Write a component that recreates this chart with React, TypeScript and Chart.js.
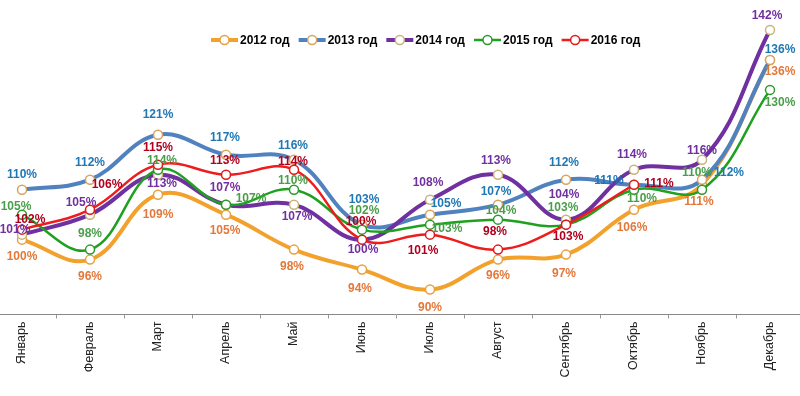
import React, { useEffect, useRef } from 'react';
import { Chart, registerables } from 'chart.js';

Chart.register(...registerables);

const MONTHS = ['Январь', 'Февраль', 'Март', 'Апрель', 'Май', 'Июнь', 'Июль', 'Август', 'Сентябрь', 'Октябрь', 'Ноябрь', 'Декабрь'];
const YEAR_LABELS = ['2012 год', '2013 год', '2014 год', '2015 год', '2016 год'];

const Y2012 = [100, 96, 109, 105, 98, 94, 90, 96, 97, 106, 111, 136];
const Y2013 = [110, 112, 121, 117, 116, 103, 105, 107, 112, 111, 112, 136];
const Y2014 = [101, 105, 113, 107, 107, 100, 108, 113, 104, 114, 116, 142];
const Y2015 = [105, 98, 114, 107, 110, 102, 103, 104, 103, 110, 110, 130];
const Y2016 = [102, 106, 115, 113, 114, 100, 101, 98, 103, 111, null, null];

const Y_MIN = 85;
const Y_MAX = 145;

// label placement (dx, dy in px from the point), layout only
const OFF2012 = [[0, 17], [0, 17], [0, 20], [-1, 16], [-2, 17], [-2, 19], [0, 18], [0, 16], [-2, 19], [-2, 18], [-3, 17], [10, 12]];
const OFF2013 = [[0, -15], [0, -17], [0, -20], [-1, -17], [-1, -14], [2, -25], [16, -11], [-2, -13], [-2, -17], [-25, -4], [27, -7], [10, -10]];
const OFF2014 = [[-7, -5], [-9, -12], [4, 9], [-1, -17], [3, 12], [1, 10], [-2, -17], [-2, -14], [-2, -25], [-2, -15], [0, -9], [-3, -14]];
const OFF2015 = [[-6, -8], [0, -16], [4, -9], [25, -6], [-1, -9], [2, -19], [17, 4], [3, -9], [-3, -17], [8, 9], [-5, -17], [10, 13]];
const OFF2016 = [[8, -10], [17, -25], [0, -17], [-1, -14], [-1, -8], [-1, -18], [-7, 16], [-3, -18], [2, 12], [25, -1], null, null];

const SERIES = [
  { label: YEAR_LABELS[0], values: Y2012, offsets: OFF2012, line: '#F2A22C', marker: '#E8A040', text: '#E3783A', width: 4 },
  { label: YEAR_LABELS[1], values: Y2013, offsets: OFF2013, line: '#5082C0', marker: '#D8A35C', text: '#1F77B4', width: 4 },
  { label: YEAR_LABELS[2], values: Y2014, offsets: OFF2014, line: '#7030A0', marker: '#C8B47A', text: '#7030A0', width: 4 },
  { label: YEAR_LABELS[3], values: Y2015, offsets: OFF2015, line: '#20A020', marker: '#2A9A2A', text: '#4A9E4A', width: 2.5 },
  { label: YEAR_LABELS[4], values: Y2016, offsets: OFF2016, line: '#EE1C1C', marker: '#E01818', text: '#B0001E', width: 2.5 },
];

const CANVAS_SHIFT = 12;
const FONT = '"Liberation Sans", Arial, sans-serif';

const labelPlugin = {
  id: 'pointValueLabels',
  afterDatasetsDraw(chart: any) {
    const ctx = chart.ctx;
    ctx.save();
    ctx.font = 'bold 12px ' + FONT;
    ctx.textAlign = 'center';
    ctx.textBaseline = 'middle';
    SERIES.forEach((s, di) => {
      const meta = chart.getDatasetMeta(di);
      meta.data.forEach((pt: any, i: number) => {
        const v = s.values[i];
        const off = s.offsets[i];
        if (v == null || !off) return;
        ctx.fillStyle = s.text;
        ctx.fillText(v + '%', pt.x + off[0], pt.y + off[1]);
      });
    });
    ctx.restore();
  },
};

const legendPlugin = {
  id: 'overlayLegend',
  afterDraw(chart: any) {
    const ctx = chart.ctx;
    ctx.save();
    ctx.font = 'bold 12px ' + FONT;
    ctx.textBaseline = 'middle';
    ctx.textAlign = 'left';
    let x = 211 + CANVAS_SHIFT;
    const y = 40;
    SERIES.forEach((s) => {
      ctx.strokeStyle = s.line;
      ctx.lineWidth = s.width;
      ctx.beginPath();
      ctx.moveTo(x, y);
      ctx.lineTo(x + 27, y);
      ctx.stroke();
      ctx.beginPath();
      ctx.arc(x + 13.5, y, 4.5, 0, Math.PI * 2);
      ctx.fillStyle = '#fff';
      ctx.fill();
      ctx.lineWidth = 1.5;
      ctx.strokeStyle = s.marker;
      ctx.stroke();
      ctx.fillStyle = '#000';
      ctx.fillText(s.label, x + 29, y + 1);
      x += 29 + ctx.measureText(s.label).width + 9;
    });
    ctx.restore();
  },
};

export default function App() {
  const ref = useRef<HTMLCanvasElement>(null);

  useEffect(() => {
    const canvas = ref.current;
    if (!canvas) return;
    const chart = new Chart(canvas, {
      type: 'line',
      data: {
        labels: MONTHS,
        datasets: SERIES.map((s, i) => ({
          label: s.label,
          data: s.values,
          borderColor: s.line,
          backgroundColor: s.line,
          borderWidth: s.width,
          tension: 0.4,
          fill: false,
          spanGaps: false,
          pointRadius: 4.5,
          pointBorderWidth: 1.5,
          pointBackgroundColor: '#ffffff',
          pointBorderColor: s.marker,
          order: SERIES.length - 1 - i,
        })),
      },
      options: {
        responsive: false,
        animation: false,
        devicePixelRatio: 1,
        layout: { autoPadding: false, padding: { top: 15, left: 0, right: 0, bottom: 0 } },
        plugins: {
          legend: { display: false },
          tooltip: { enabled: false },
        },
        scales: {
          x: {
            type: 'category',
            offset: true,
            grid: {
              display: true,
              drawOnChartArea: false,
              drawTicks: true,
              tickLength: 4,
              offset: true,
              color: '#999999',
            },
            border: { display: true, color: '#888888', width: 1 },
            ticks: {
              minRotation: 90,
              maxRotation: 90,
              autoSkip: false,
              padding: 3,
              color: '#222222',
              font: { family: FONT, size: 12.5 },
            },
            afterFit: (scale: any) => {
              scale.height = 81.5;
              scale.paddingLeft = 0;
              scale.paddingRight = 0;
            },
          },
          y: {
            display: false,
            min: Y_MIN,
            max: Y_MAX,
          },
        },
      },
      plugins: [labelPlugin, legendPlugin],
    } as any);
    return () => chart.destroy();
  }, []);

  return (
    <div style={{ position: 'fixed', left: 0, top: 0, width: 800, height: 396, overflow: 'hidden', background: '#ffffff' }}>
      <canvas
        ref={ref}
        width={816}
        height={396}
        style={{ position: 'absolute', left: -CANVAS_SHIFT, top: 0, width: 816, height: 396 }}
      />
    </div>
  );
}
